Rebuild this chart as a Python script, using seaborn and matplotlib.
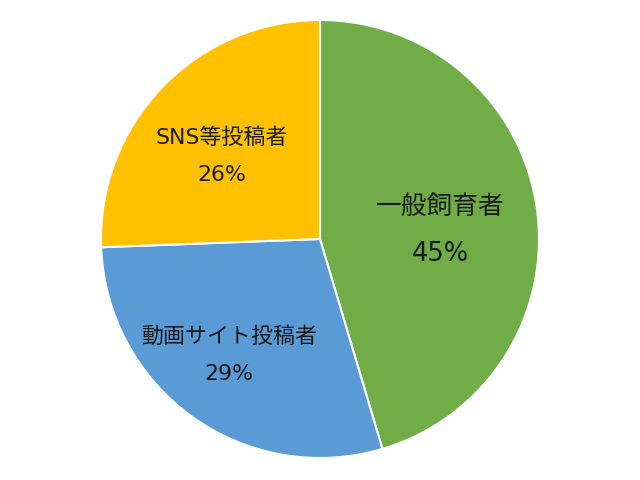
import matplotlib
matplotlib.use("Agg")
import matplotlib.pyplot as plt
import seaborn as sns

categories = ["一般飼育者", "動画サイト投稿者", "SNS等投稿者"]
values = [45.4, 29.0, 25.6]
colors = ["#70AD47", "#5B9BD5", "#FFC000"]
label_pos = [(0.548, 0.039), (-0.416, -0.53), (-0.45, 0.379)]
label_sizes = [18.5, 15.8, 15.8]

sns.set_style("white")
plt.rcParams['font.family'] = ['DejaVu Sans', 'Noto Sans CJK JP']

fig = plt.figure(figsize=(6.4, 4.8), dpi=100)
ax = fig.add_axes([101/640, 22/480, 438/640, 438/480])
wedges, _ = ax.pie(values, colors=colors, startangle=90, counterclock=False,
                   radius=1.0, wedgeprops=dict(edgecolor="white", linewidth=1.5))
total = sum(values)
for cat, v, (x, y), fs in zip(categories, values, label_pos, label_sizes):
    ax.text(x, y, f"{cat}\n{v/total*100:.0f}%", ha="center", va="center",
            fontsize=fs, color="#1a1a1a", linespacing=2.05)
ax.set_xlim(-1, 1)
ax.set_ylim(-1, 1)
ax.set_aspect("equal")
ax.axis("off")
fig.savefig("out.png", dpi=100)
